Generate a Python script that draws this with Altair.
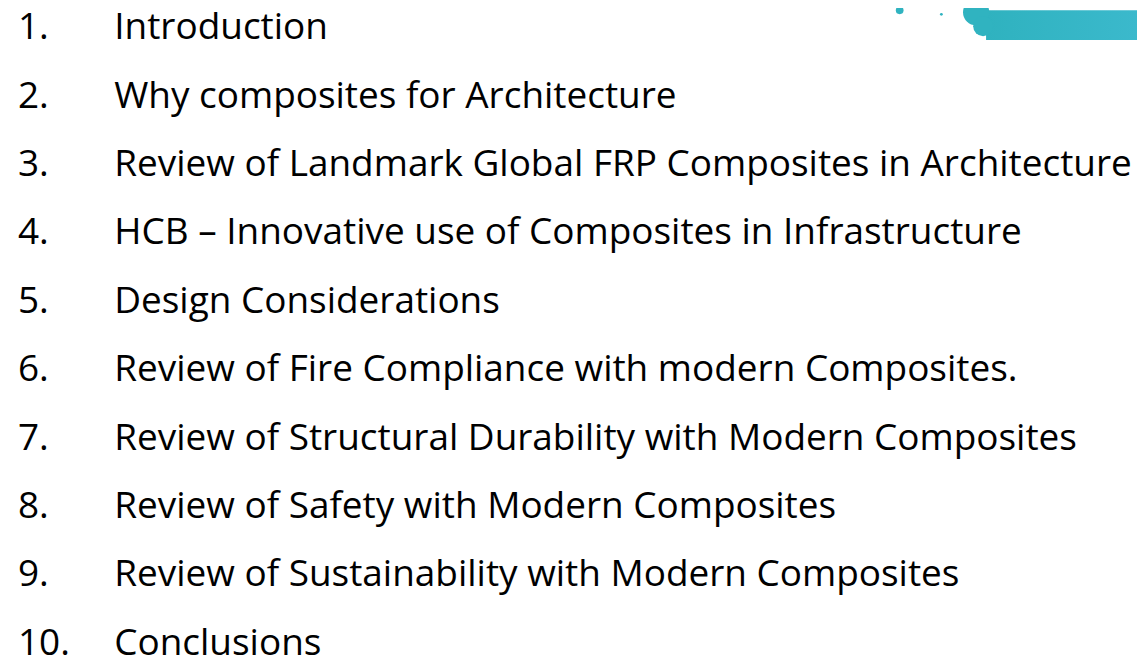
import altair as alt
import pandas as pd

numbers = ["1.", "2.", "3.", "4.", "5.", "6.", "7.", "8.", "9.", "10."]
items = [
    "Introduction",
    "Why composites for Architecture",
    "Review of Landmark Global FRP Composites in Architecture",
    "HCB \u2013 Innovative use of Composites in Infrastructure",
    "Design Considerations",
    "Review of Fire Compliance with modern Composites.",
    "Review of Structural Durability with Modern Composites",
    "Review of Safety with Modern Composites",
    "Review of Sustainability with Modern Composites",
    "Conclusions",
]
order = list(range(1, 11))

W, H = 1137, 657
FONT = "Open Sans"
FS = 37.2

df = pd.DataFrame({"n": order, "num": numbers, "item": items})

yscale = alt.Scale(domain=[10.115, 0.579])

base = alt.Chart(df)

nums = base.mark_text(align="left", baseline="alphabetic", font=FONT, fontSize=FS, color="#000000").encode(
    x=alt.value(10),
    y=alt.Y("n:Q", scale=yscale, axis=None),
    text="num:N",
)
texts = base.mark_text(align="left", baseline="alphabetic", font=FONT, fontSize=FS, color="#000000").encode(
    x=alt.value(107),
    y=alt.Y("n:Q", scale=yscale, axis=None),
    text="item:N",
)

grad = alt.LinearGradient(
    gradient="linear",
    stops=[alt.GradientStop(color="#2fb2bf", offset=0), alt.GradientStop(color="#3bb9cc", offset=1)],
    x1=0, x2=1, y1=0, y2=0,
)
banner = alt.Chart(pd.DataFrame({"k": [0]})).mark_rect(color=grad).encode(
    x=alt.value(985), x2=alt.value(W), y=alt.value(0), y2=alt.value(30)
)

blobs_df = pd.DataFrame({
    "bx": [975, 982, 898, 940],
    "by": [2, 16, 0, 4],
    "bs": [700, 400, 60, 8],
})
blobs = alt.Chart(blobs_df).mark_circle(opacity=1, color="#30b3c0").encode(
    x=alt.X("bx:Q", scale=alt.Scale(domain=[0, W]), axis=None),
    y=alt.Y("by:Q", scale=alt.Scale(domain=[H, 0]), axis=None),
    size=alt.Size("bs:Q", scale=None, legend=None),
)

chart = alt.layer(banner, blobs, nums, texts).resolve_scale(y="independent", x="independent").properties(
    width=W, height=H, padding=0,
    autosize=alt.AutoSizeParams(type="none"),
).configure_view(stroke=None)

chart.save("out.html", embed_options={"renderer": "svg", "actions": False})
